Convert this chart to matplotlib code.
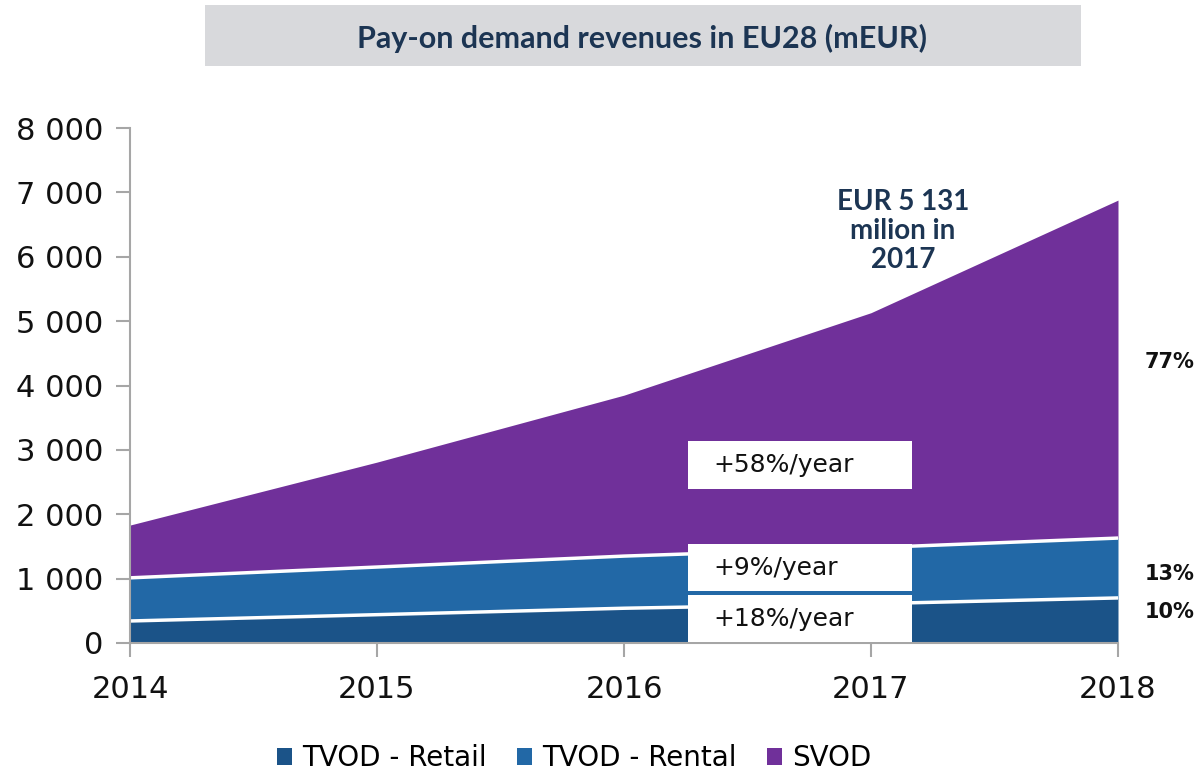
import matplotlib
matplotlib.use("Agg")
import matplotlib.pyplot as plt
from matplotlib.patches import Rectangle, Patch
from matplotlib.ticker import FuncFormatter
import numpy as np

years = [2014, 2015, 2016, 2017, 2018]
tvod_retail = [342, 440, 540, 610, 700]
tvod_rental = [670, 740, 810, 870, 930]
svod = [820, 1630, 2500, 3651, 5250]
series_names = ["TVOD - Retail", "TVOD - Rental", "SVOD"]
shares = ["10%", "13%", "77%"]
growth = ["+18%/year", "+9%/year", "+58%/year"]
yticks = [0, 1000, 2000, 3000, 4000, 5000, 6000, 7000, 8000]

c_retail = "#1B5388"
c_rental = "#2268A6"
c_svod = "#70309A"
navy = "#1C3553"

fig = plt.figure(figsize=(11.97, 7.75), dpi=100)

# title box
fig.patches.append(Rectangle((205 / 1197, 1 - 66 / 775), (1081 - 205) / 1197, 61 / 775,
                             transform=fig.transFigure, facecolor="#D8D9DC", edgecolor="none", zorder=0))
fig.text(642 / 1197, 1 - 38 / 775, "Pay-on demand revenues in EU28 (mEUR)", ha="center", va="center",
         fontsize=22, fontweight="bold", color=navy, family=["Lato", "DejaVu Sans"])

ax = fig.add_axes([130 / 1197, 1 - 643 / 775, 988 / 1197, 515 / 775])

x = np.array(years)
r = np.array(tvod_retail)
rt = r + np.array(tvod_rental)
tot = rt + np.array(svod)

ax.fill_between(x, 0, r, color=c_retail, lw=0, zorder=1)
ax.fill_between(x, r, rt, color=c_rental, lw=0, zorder=1)
ax.fill_between(x, rt, tot, color=c_svod, lw=0, zorder=1)
ax.plot(x, r, color="white", lw=2.5, zorder=2)
ax.plot(x, rt, color="white", lw=2.5, zorder=2)

ax.set_xlim(2014, 2018)
ax.set_ylim(0, 8000)
ax.set_xticks(years)
ax.set_yticks(yticks)
ax.yaxis.set_major_formatter(FuncFormatter(lambda v, p: f"{int(v):,}".replace(",", " ")))

for s in ["top", "right"]:
    ax.spines[s].set_visible(False)
for s in ["left", "bottom"]:
    ax.spines[s].set_color("#A6A6A6")
    ax.spines[s].set_linewidth(1.5)

ax.tick_params(axis="y", length=10, width=1.5, color="#A6A6A6", pad=9, labelsize=22, labelcolor="#111111")
ax.tick_params(axis="x", length=10, width=1.5, color="#A6A6A6", pad=13, labelsize=22, labelcolor="#111111")

# growth boxes
bx0, bx1 = 2016.26, 2017.165
boxes = [(15, 745), (807, 1537), (2391, 3137)]
for (y0, y1), txt in zip(boxes, growth):
    ax.add_patch(Rectangle((bx0, y0), bx1 - bx0, y1 - y0, facecolor="white", edgecolor="none", zorder=3))
    ax.text(2016.36, (y0 + y1) / 2, txt, ha="left", va="center", fontsize=18, color="#111111", zorder=4)
ax.plot([bx0, bx1], [780, 780], color=c_rental, lw=2, zorder=4)

# share labels
for yv, s in zip([475, 1070, 4370], shares):
    fig.text(1145 / 1197, 1 - (643 - yv * 64.4 / 1000) / 775, s, ha="left", va="center",
             fontsize=15, fontweight="bold", color="#111111")

# annotation
ax.text(2017.13, 6400, "EUR 5 131\nmilion in\n2017", ha="center", va="center", fontsize=20,
        fontweight="bold", color=navy, linespacing=1.15, family=["Lato", "DejaVu Sans"])

handles = [Patch(facecolor=c, edgecolor="none") for c in [c_retail, c_rental, c_svod]]
fig.legend(handles, series_names, loc="center", bbox_to_anchor=(574 / 1197, 1 - 758 / 775), ncol=3,
           frameon=False, fontsize=20, handlelength=0.55, handleheight=0.55, handletextpad=0.35,
           columnspacing=1.1)

fig.savefig("out.png", dpi=100)
